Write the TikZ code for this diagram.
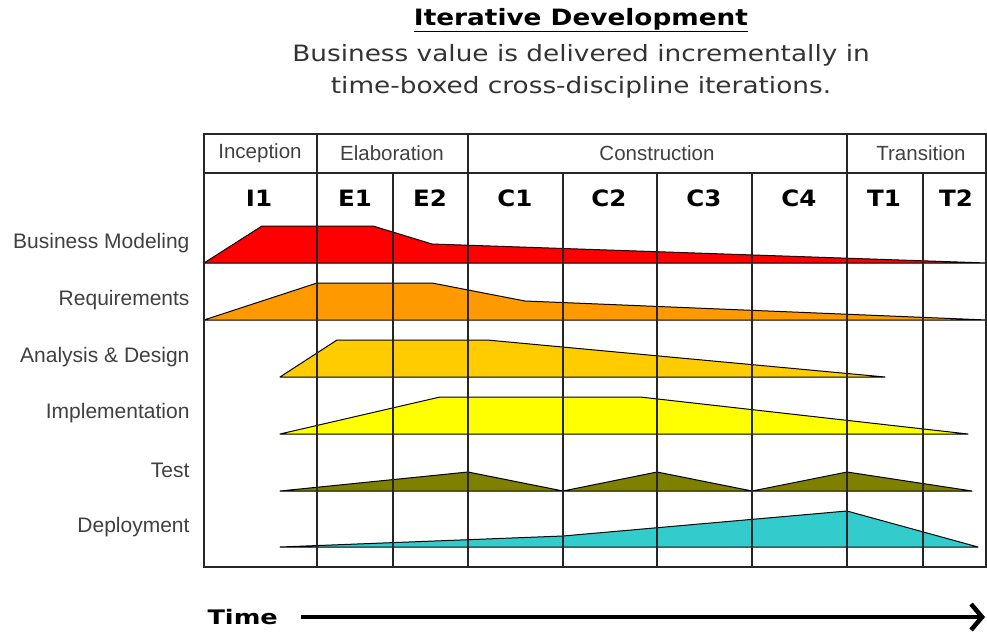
\documentclass[tikz,border=0pt]{standalone}
\usepackage{fontspec}
\setmainfont{DejaVu Sans}
\newfontfamily\labelfont{Liberation Sans}
\newfontfamily\widefont{DejaVu Sans}[FakeStretch=1.17]
\newfontfamily\iterfont{DejaVu Sans}[FakeStretch=1.09]
\newfontfamily\timefont{DejaVu Sans}[FakeStretch=1.28]
\usepackage{xcolor}
\usetikzlibrary{arrows.meta}

\definecolor{bmred}{HTML}{FF0000}
\definecolor{reqorange}{HTML}{FF9900}
\definecolor{adgold}{HTML}{FFCC00}
\definecolor{implyellow}{HTML}{FFFF00}
\definecolor{testolive}{HTML}{808000}
\definecolor{depturq}{HTML}{33CCCC}

\begin{document}
\begin{tikzpicture}[
    x=1pt, y=-1pt,
    gridline/.style={line width=1.6pt, black!85},
    lane/.style={draw=black, line width=1pt, line join=round},
    phase/.style={font=\labelfont\fontsize{20.5}{22}\selectfont, text=black!75},
    iter/.style={font=\iterfont\bfseries\fontsize{22.5}{26}\selectfont},
    rowlabel/.style={anchor=east, font=\labelfont\fontsize{21}{22}\selectfont, text=black!75},
    timearrow/.style={line width=4.5pt, -{Straight Barb[length=11pt, width=26pt]}}
]
\useasboundingbox (0,0) rectangle (987,632);

% Title
\node[font=\widefont\bfseries\fontsize{22.5}{26}\selectfont] (title) at (581,20) {\underline{Iterative Development}};
\node[align=center, font=\widefont\fontsize{22.5}{32}\selectfont, text=black!80] (subtitle) at (581,71)
    {Business value is delivered incrementally in\\time-boxed cross-discipline iterations.};

% Lanes
\filldraw[lane, fill=bmred] (204,263) -- (262,226) -- (373,226) -- (432,244) -- (987,263) -- cycle;
\filldraw[lane, fill=reqorange] (204,320) -- (317,283) -- (432,283) -- (525,301) -- (987,320) -- cycle;
\filldraw[lane, fill=adgold] (280,377) -- (337,340) -- (487,340) -- (885,377) -- cycle;
\filldraw[lane, fill=implyellow] (280,434) -- (440,397) -- (640,397) -- (968,434) -- cycle;
\filldraw[lane, fill=testolive] (280,491) -- (468,472) -- (563,491) -- (657,472) -- (752,491)
    -- (847,472) -- (972,491) -- cycle;
\filldraw[lane, fill=depturq] (280,547) -- (563,536) -- (847,511) -- (978,547) -- cycle;

% Grid
\draw[gridline] (204,134) rectangle (986,567);
\draw[gridline] (204,173) -- (986,173);
\foreach \x in {317,468,847}
    \draw[gridline] (\x,134) -- (\x,567);
\foreach \x in {393,563,657,752,923}
    \draw[gridline] (\x,173) -- (\x,567);

% Phases
\node[phase] (inception) at (260,153) {Inception};
\node[phase] (elaboration) at (392,153) {Elaboration};
\node[phase] (construction) at (657,153) {Construction};
\node[phase] (transition) at (921,153) {Transition};

% Iterations
\foreach \x/\t in {259/I1, 355/E1, 430/E2, 515/C1, 609/C2, 704/C3, 799/C4, 884/T1, 956/T2}
    \node[iter] (it-\t) at (\x,198) {\t};

% Disciplines
\node[rowlabel] (bm) at (193,243) {Business Modeling};
\node[rowlabel] (req) at (193,300) {Requirements};
\node[rowlabel] (ad) at (193,357) {Analysis \& Design};
\node[rowlabel] (impl) at (193,413) {Implementation};
\node[rowlabel] (test) at (193,470) {Test};
\node[rowlabel] (dep) at (193,527) {Deployment};

% Time axis
\node[font=\timefont\bfseries\fontsize{20}{24}\selectfont, anchor=west] (time) at (204,617) {Time};
\coordinate (time-end) at (985,617);
\draw[timearrow] ([xshift=20pt]time.east) -- (time-end);

\end{tikzpicture}
\end{document}
